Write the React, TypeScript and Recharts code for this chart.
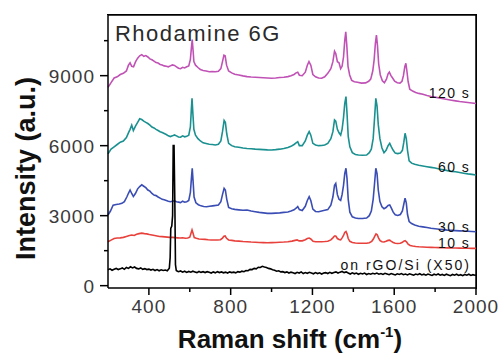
import React from 'react';
import { LineChart, Line, XAxis, YAxis, ReferenceDot, ReferenceLine, Label } from 'recharts';

type P = [number, number];

const xDomain: [number, number] = [200, 2000];
const yDomain: [number, number] = [-100, 11600];
const xTicks = [400, 600, 800, 1000, 1200, 1400, 1600, 1800, 2000];
const xMajor = [400, 800, 1200, 1600, 2000];
const yTicks = [0, 1500, 3000, 4500, 6000, 7500, 9000, 10500];
const yMajor = [0, 3000, 6000, 9000];

const s120: P[] = [[200,8500],[215,8700],[230,8900],[245,8950],[260,9050],[275,9100],[290,9200],[300,9450],[308,9550],[316,9400],[325,9380],[335,9600],[345,9750],[355,9850],[365,9900],[375,9830],[385,9860],[395,9800],[405,9720],[415,9680],[425,9620],[435,9560],[445,9540],[455,9480],[465,9460],[475,9420],[485,9400],[495,9380],[505,9420],[515,9460],[525,9440],[535,9380],[545,9320],[555,9300],[565,9360],[575,9330],[585,9380],[595,9420],[603,9700],[608,10200],[612,10550],[616,10100],[620,9600],[628,9450],[640,9350],[652,9260],[665,9220],[680,9200],[695,9170],[710,9180],[725,9170],[740,9190],[752,9300],[760,9600],[767,9880],[773,9850],[780,9450],[790,9200],[805,9120],[820,9060],[840,9030],[860,8990],[880,8960],[900,8940],[920,8930],[940,8920],[960,8910],[980,8900],[1000,8890],[1020,8900],[1040,8920],[1060,8930],[1080,8960],[1095,9000],[1110,9050],[1120,9120],[1128,9150],[1136,9020],[1150,9000],[1165,9150],[1175,9450],[1183,9600],[1192,9450],[1202,9050],[1215,8950],[1230,8900],[1245,8890],[1260,8950],[1275,9100],[1290,9300],[1300,9600],[1308,10050],[1314,9950],[1322,9600],[1330,9550],[1338,9300],[1345,9400],[1352,9800],[1358,10500],[1363,10880],[1368,10300],[1374,9400],[1382,9030],[1392,8800],[1405,8740],[1420,8720],[1440,8680],[1460,8690],[1475,8760],[1485,8850],[1495,9200],[1502,9700],[1508,10400],[1513,10740],[1518,10300],[1524,9500],[1532,9030],[1542,8780],[1552,8700],[1562,8850],[1570,9080],[1576,9150],[1584,9000],[1592,8900],[1602,8760],[1615,8700],[1628,8680],[1638,8760],[1645,9000],[1652,9400],[1657,9530],[1662,9200],[1668,8750],[1676,8420],[1690,8340],[1705,8280],[1720,8240],[1740,8200],[1760,8150],[1780,8110],[1800,8080],[1820,8040],[1840,8010],[1860,7980],[1880,7950],[1900,7920],[1920,7890],[1940,7870],[1960,7850],[1980,7830],[2000,7810]];

const s60: P[] = [[200,5650],[215,5850],[230,5950],[245,6050],[260,6150],[275,6200],[290,6350],[300,6550],[308,6700],[316,6880],[324,6650],[335,6850],[345,7000],[355,7150],[365,7120],[375,7050],[385,7000],[395,6950],[405,6880],[415,6800],[425,6760],[435,6700],[445,6650],[455,6600],[465,6560],[475,6520],[485,6480],[495,6420],[505,6390],[515,6420],[525,6460],[535,6420],[545,6370],[555,6360],[565,6420],[575,6380],[585,6400],[595,6450],[603,6800],[608,7600],[611,8030],[615,7400],[620,6700],[628,6450],[640,6300],[652,6200],[665,6120],[680,6090],[695,6060],[710,6050],[725,6030],[740,6060],[752,6200],[760,6600],[768,7080],[774,7000],[781,6500],[790,6100],[805,6000],[820,5950],[840,5930],[860,5900],[880,5880],[900,5870],[920,5850],[940,5840],[960,5830],[980,5820],[1000,5815],[1020,5830],[1040,5850],[1060,5880],[1080,5920],[1095,5970],[1110,6050],[1120,6120],[1128,6170],[1136,6000],[1150,6000],[1165,6200],[1175,6450],[1184,6600],[1192,6450],[1202,6100],[1215,6030],[1230,6000],[1245,6010],[1260,6030],[1275,6100],[1290,6300],[1300,6600],[1308,7100],[1314,7050],[1322,6700],[1330,6550],[1338,6450],[1345,6700],[1352,7200],[1358,7800],[1364,8100],[1369,7400],[1375,6400],[1383,5950],[1395,5700],[1410,5620],[1425,5600],[1445,5590],[1465,5600],[1478,5700],[1488,5850],[1497,6300],[1504,7200],[1510,8030],[1516,7700],[1522,6900],[1530,6300],[1540,5900],[1550,5700],[1560,5800],[1570,6000],[1578,6100],[1586,5950],[1595,5800],[1605,5680],[1617,5660],[1630,5680],[1640,5800],[1647,6150],[1653,6530],[1659,6300],[1665,5800],[1673,5350],[1685,5250],[1700,5200],[1720,5160],[1740,5130],[1760,5100],[1780,5070],[1800,5040],[1820,5000],[1840,4970],[1860,4930],[1880,4900],[1900,4880],[1920,4850],[1940,4820],[1960,4790],[1980,4770],[2000,4740]];

const s30: P[] = [[200,3030],[212,3200],[225,3450],[240,3480],[255,3500],[268,3530],[280,3600],[292,3800],[300,3960],[308,4100],[316,3950],[324,3820],[334,3950],[345,4150],[355,4250],[365,4320],[375,4260],[385,4200],[395,4100],[405,4050],[415,3950],[425,3880],[435,3860],[445,3800],[455,3750],[465,3700],[475,3680],[485,3650],[495,3620],[505,3600],[515,3620],[525,3640],[535,3600],[545,3580],[555,3560],[565,3620],[575,3580],[585,3600],[595,3650],[603,4000],[608,4600],[612,5030],[616,4500],[621,3800],[630,3550],[642,3470],[655,3420],[668,3390],[682,3380],[697,3400],[712,3420],[727,3440],[740,3460],[752,3600],[760,3900],[768,4170],[774,4100],[781,3700],[790,3350],[805,3300],[820,3270],[840,3250],[860,3230],[880,3240],[900,3200],[920,3170],[940,3140],[960,3120],[980,3100],[1000,3100],[1020,3110],[1040,3120],[1060,3140],[1080,3160],[1095,3200],[1110,3250],[1120,3320],[1128,3390],[1136,3260],[1150,3220],[1165,3400],[1175,3650],[1184,3810],[1192,3650],[1202,3280],[1215,3180],[1230,3170],[1245,3200],[1260,3230],[1275,3260],[1290,3450],[1300,3800],[1308,4300],[1314,4380],[1322,3900],[1330,3700],[1338,3650],[1345,3900],[1352,4300],[1358,4800],[1364,5030],[1369,4600],[1375,3700],[1383,3150],[1395,2950],[1410,2900],[1425,2880],[1445,2880],[1465,2900],[1478,3000],[1488,3200],[1497,3700],[1504,4400],[1510,5030],[1516,4800],[1522,4100],[1530,3600],[1540,3380],[1550,3300],[1560,3350],[1570,3440],[1578,3460],[1586,3320],[1595,3150],[1605,3040],[1617,3010],[1630,3050],[1640,3200],[1647,3500],[1653,3750],[1659,3550],[1665,3050],[1673,2750],[1685,2660],[1700,2600],[1720,2550],[1740,2520],[1760,2490],[1780,2460],[1800,2440],[1820,2420],[1840,2400],[1860,2380],[1880,2370],[1900,2360],[1920,2350],[1940,2340],[1960,2330],[1980,2320],[2000,2310]];

const s10: P[] = [[200,1880],[215,1950],[230,2020],[245,2040],[260,2050],[275,2070],[290,2110],[305,2150],[316,2170],[328,2150],[340,2200],[352,2230],[365,2250],[378,2230],[390,2220],[402,2190],[415,2170],[428,2150],[440,2130],[452,2110],[465,2100],[478,2090],[490,2080],[502,2070],[515,2070],[528,2060],[540,2050],[552,2040],[565,2050],[578,2030],[590,2040],[600,2080],[606,2250],[611,2390],[616,2250],[622,2060],[632,2030],[645,2000],[660,1990],[675,1985],[690,1970],[705,1960],[720,1955],[735,1960],[750,1970],[760,2040],[767,2120],[773,2130],[780,2030],[790,1960],[805,1940],[820,1920],[840,1910],[860,1890],[880,1885],[900,1870],[920,1860],[940,1850],[960,1845],[980,1840],[1000,1845],[1020,1850],[1040,1860],[1060,1870],[1080,1885],[1100,1910],[1115,1940],[1125,1960],[1135,1920],[1150,1920],[1165,1970],[1175,2020],[1184,2040],[1192,2000],[1203,1900],[1215,1880],[1230,1880],[1245,1885],[1260,1890],[1275,1900],[1290,1960],[1300,2050],[1308,2130],[1314,2130],[1322,2020],[1330,1980],[1338,1960],[1345,2050],[1352,2150],[1358,2280],[1364,2320],[1369,2220],[1375,2020],[1383,1900],[1395,1850],[1410,1830],[1425,1820],[1445,1815],[1465,1820],[1478,1840],[1490,1900],[1498,2000],[1505,2120],[1511,2220],[1517,2180],[1523,2050],[1531,1930],[1540,1880],[1550,1870],[1560,1900],[1570,1940],[1578,1950],[1586,1900],[1595,1850],[1605,1820],[1617,1810],[1630,1820],[1640,1860],[1647,1910],[1653,1930],[1660,1880],[1668,1780],[1678,1720],[1690,1700],[1705,1680],[1720,1665],[1740,1655],[1760,1645],[1780,1640],[1800,1635],[1820,1630],[1840,1625],[1860,1620],[1880,1615],[1900,1612],[1920,1608],[1940,1605],[1960,1602],[1980,1600],[2000,1598]];

const sSi: P[] = [[200,680],[210,720],[220,660],[230,700],[240,740],[250,690],[260,720],[270,760],[280,700],[290,780],[300,740],[310,810],[320,760],[330,800],[340,740],[350,720],[360,760],[370,700],[380,730],[390,690],[400,710],[410,670],[420,700],[430,650],[440,690],[450,640],[460,680],[470,650],[480,670],[490,640],[500,750],[504,1200],[507,2450],[512,2550],[516,3000],[519,6000],[523,6000],[527,3500],[530,900],[534,650],[540,620],[545,600],[555,630],[565,580],[575,620],[585,570],[595,610],[605,580],[615,620],[625,590],[635,560],[645,610],[655,570],[665,600],[675,560],[685,600],[695,570],[705,540],[715,590],[725,550],[735,600],[745,560],[755,590],[765,550],[775,580],[785,540],[795,590],[805,560],[815,580],[825,550],[835,600],[845,580],[855,620],[865,600],[875,650],[885,640],[895,700],[905,690],[915,740],[925,720],[935,790],[945,780],[955,830],[965,800],[975,780],[985,740],[995,720],[1005,680],[1015,660],[1025,620],[1035,640],[1045,590],[1055,600],[1065,560],[1075,590],[1085,540],[1095,580],[1105,550],[1115,520],[1125,570],[1135,540],[1145,590],[1155,520],[1165,560],[1175,530],[1185,570],[1195,540],[1205,510],[1215,560],[1225,520],[1235,550],[1245,500],[1255,540],[1265,560],[1275,520],[1285,570],[1295,530],[1305,560],[1315,590],[1325,540],[1335,580],[1345,610],[1355,560],[1365,590],[1375,540],[1385,500],[1395,550],[1405,510],[1415,540],[1425,490],[1435,530],[1445,500],[1455,540],[1465,480],[1475,520],[1485,490],[1495,530],[1505,500],[1515,540],[1525,490],[1535,520],[1545,480],[1555,530],[1565,500],[1575,470],[1585,520],[1595,490],[1605,460],[1615,510],[1625,480],[1635,520],[1645,470],[1655,500],[1665,460],[1675,510],[1685,480],[1695,450],[1705,500],[1715,470],[1725,510],[1735,460],[1745,490],[1755,450],[1765,500],[1775,470],[1785,440],[1795,490],[1805,460],[1815,500],[1825,450],[1835,480],[1845,440],[1855,490],[1865,460],[1875,430],[1885,480],[1895,450],[1905,490],[1915,440],[1925,470],[1935,430],[1945,480],[1955,450],[1965,490],[1975,440],[1985,470],[1995,450],[2000,460]];

const toRows = (a: P[]) => a.map(([x, y]) => ({ x, y }));

const series = [
  { name: '120 s', data: toRows(s120), color: '#c052b6' },
  { name: '60 s', data: toRows(s60), color: '#1a9090' },
  { name: '30 s', data: toRows(s30), color: '#3a4db4' },
  { name: '10 s', data: toRows(s10), color: '#e8413c' },
  { name: 'on rGO/Si (X50)', data: toRows(sSi), color: '#000000' },
];

// text annotations: [label, x, y, letterSpacing]
const annotations: [string, number, number, number][] = [
  ['120 s', 1971, 8043, 1.4],
  ['60 s', 1971, 4886, 1.4],
  ['30 s', 1971, 2313, 1.4],
  ['10 s', 1971, 1627, 1.4],
  ['on rGO/Si (X50)', 1975, 671, 2],
];

const FONT = "'Liberation Sans', Arial, sans-serif";

// chart geometry
const W = 500;
const H = 354;
const M = { top: 15, right: 24, left: 0, bottom: 0 };
const Y_AXIS_W = 108;
const X_AXIS_H = 66;

const XTick = (props: any) => {
  const { x, y, payload } = props;
  const major = xMajor.includes(payload.value);
  return (
    <g>
      <line x1={x} x2={x} y1={y} y2={y + (major ? 7 : 4)} stroke="#000" strokeWidth={1.5} />
      {major && (
        <text x={x} y={y + 25} textAnchor="middle" fontSize={19} fill="#3a3a3a" fontFamily={FONT} letterSpacing={1}>
          {payload.value}
        </text>
      )}
    </g>
  );
};

const YTick = (props: any) => {
  const { x, y, payload } = props;
  const major = yMajor.includes(payload.value);
  return (
    <g>
      <line x1={x} x2={x - (major ? 8 : 4)} y1={y} y2={y} stroke="#000" strokeWidth={1.5} />
      {major && (
        <text x={x - 13} y={y + 7} textAnchor="end" fontSize={19} fill="#3a3a3a" fontFamily={FONT} letterSpacing={1}>
          {payload.value}
        </text>
      )}
    </g>
  );
};

const XLabel = (props: any) => {
  const vb = props.viewBox;
  return (
    <text x={vb.x + vb.width / 2 - 2} y={vb.y + 60} textAnchor="middle" fontSize={26} fontWeight="bold" fill="#111" fontFamily={FONT}>
      Raman shift (cm
      <tspan fontSize={15} dy={-11}>-1</tspan>
      <tspan dy={11}>)</tspan>
    </text>
  );
};

const YLabel = (props: any) => {
  const vb = props.viewBox;
  const cx = vb.x + 35;
  const cy = vb.y + vb.height / 2 + 17;
  return (
    <text x={cx} y={cy} transform={`rotate(-90 ${cx} ${cy})`} textAnchor="middle" fontSize={27} fontWeight="bold" fill="#111" fontFamily={FONT}>
      Intensity (a.u.)
    </text>
  );
};

const AnnText = (text: string, anchor: 'start' | 'end', size: number, ls: number, fill: string) => (props: any) => {
  const vb = props.viewBox;
  return (
    <text x={vb.x + vb.width / 2} y={vb.y + vb.height / 2} textAnchor={anchor} fontSize={size} fill={fill} fontFamily={FONT} letterSpacing={ls}>
      {text}
    </text>
  );
};

export default function App() {
  const plotLeft = M.left + Y_AXIS_W;
  const plotTop = M.top;
  const plotW = W - M.left - M.right - Y_AXIS_W;
  const plotH = H - M.top - M.bottom - X_AXIS_H;
  return (
    <div style={{ position: 'absolute', left: 0, top: 0, width: W, height: H, background: '#fff' }}>
      <LineChart width={W} height={H} margin={M}>
        <XAxis
          type="number"
          dataKey="x"
          domain={xDomain}
          ticks={xTicks}
          height={X_AXIS_H}
          tickSize={0}
          tickMargin={0}
          tick={<XTick />}
          axisLine={{ stroke: '#000', strokeWidth: 1.5 }}
          tickLine={false}
          label={<Label content={<XLabel />} />}
        />
        <YAxis
          type="number"
          dataKey="y"
          domain={yDomain}
          ticks={yTicks}
          width={Y_AXIS_W}
          tickSize={0}
          tickMargin={0}
          tick={<YTick />}
          axisLine={{ stroke: '#000', strokeWidth: 1.5 }}
          tickLine={false}
          label={<Label content={<YLabel />} />}
        />
        <ReferenceLine y={yDomain[1]} stroke="#000" strokeWidth={1.5} ifOverflow="extendDomain" />
        <ReferenceLine x={xDomain[1]} stroke="#000" strokeWidth={1.5} ifOverflow="extendDomain" />
        {series.map((s) => (
          <Line
            key={s.name}
            data={s.data}
            dataKey="y"
            type="linear"
            stroke={s.color}
            strokeWidth={1.6}
            dot={false}
            isAnimationActive={false}
          />
        ))}
        <ReferenceDot x={234} y={10490} r={1} fill="none" stroke="none" label={<Label content={AnnText('Rhodamine 6G', 'start', 22, 1.5, '#2a2a2a')} />} />
        {annotations.map(([t, x, y, ls]) => (
          <ReferenceDot key={t} x={x} y={y} r={1} fill="none" stroke="none" label={<Label content={AnnText(t, 'end', 14, ls, '#111')} />} />
        ))}
      </LineChart>
      <div
        style={{
          position: 'absolute',
          left: plotLeft - 0.75,
          top: plotTop - 0.75,
          width: plotW + 1.5,
          height: plotH + 1.5,
          boxSizing: 'border-box',
          borderTop: '1.5px solid #000',
          borderRight: '1.5px solid #000',
          pointerEvents: 'none',
        }}
      />
    </div>
  );
}
